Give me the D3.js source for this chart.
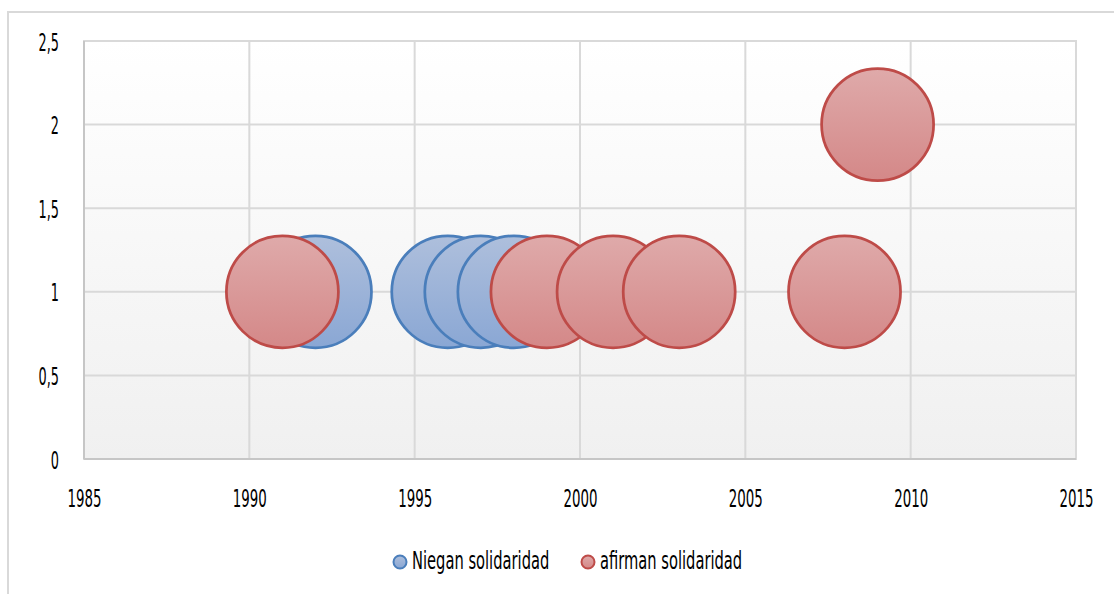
<!DOCTYPE html>
<html>
<head>
<meta charset="utf-8">
<script src="https://cdn.jsdelivr.net/npm/d3@7"></script>
<style>
  body { margin: 0; background: #fff; }
  svg text { font-family: "DejaVu Sans Condensed", "Liberation Sans Narrow", sans-serif; fill: #000; }
</style>
</head>
<body>
<div id="chart"></div>
<script>
// data
var nieganYears = [1992, 1996, 1997, 1998];
var nieganValues = [1, 1, 1, 1];
var afirmanYears = [1991, 1999, 2001, 2003, 2008, 2009];
var afirmanValues = [1, 1, 1, 1, 1, 2];
var xTicks = [1985, 1990, 1995, 2000, 2005, 2010, 2015];
var yTicks = [0, 0.5, 1, 1.5, 2, 2.5];
var seriesNames = ["Niegan solidaridad", "afirman solidaridad"];

var W = 1114, H = 594;
var margin = {top: 41, right: 38, bottom: 135, left: 84},
    width = W - margin.left - margin.right,
    height = H - margin.top - margin.bottom;

var es = d3.formatLocale({decimal: ",", thousands: ".", grouping: [3], currency: ["", "€"]});
var fmtY = es.format("~g");

var svg = d3.select("#chart").append("svg")
    .attr("width", W)
    .attr("height", H);

var defs = svg.append("defs");
var bg = defs.append("linearGradient").attr("id", "bg").attr("x1", 0).attr("x2", 0).attr("y1", 0).attr("y2", 1);
bg.append("stop").attr("offset", "0%").attr("stop-color", "#ffffff");
bg.append("stop").attr("offset", "100%").attr("stop-color", "#f0f0f0");
var gb = defs.append("linearGradient").attr("id", "gblue").attr("x1", 0).attr("x2", 0).attr("y1", 0).attr("y2", 1);
gb.append("stop").attr("offset", "0%").attr("stop-color", "#aebfdc");
gb.append("stop").attr("offset", "100%").attr("stop-color", "#8aa7d4");
var gr = defs.append("linearGradient").attr("id", "gred").attr("x1", 0).attr("x2", 0).attr("y1", 0).attr("y2", 1);
gr.append("stop").attr("offset", "0%").attr("stop-color", "#dfaaaa");
gr.append("stop").attr("offset", "100%").attr("stop-color", "#d48888");

// outer frame
svg.append("rect")
    .attr("x", 8).attr("y", 12)
    .attr("width", W + 20).attr("height", H + 20)
    .attr("fill", "none")
    .attr("stroke", "#d9d9d9")
    .attr("stroke-width", 2);

var g = svg.append("g")
    .attr("transform", "translate(" + margin.left + "," + margin.top + ")");

var x = d3.scaleLinear().domain([1985, 2015]).range([0, width]);
var y = d3.scaleLinear().domain([0, 2.5]).range([height, 0]);
var r = d3.scaleSqrt().domain([0, 1]).range([0, 56]);

// plot background
g.append("rect")
    .attr("width", width).attr("height", height)
    .attr("fill", "url(#bg)")
    .attr("stroke", "#d9d9d9")
    .attr("stroke-width", 2);

// grid
g.append("g").selectAll("line.h")
  .data(yTicks)
  .enter().append("line")
    .attr("x1", 0).attr("x2", width)
    .attr("y1", function(d) { return y(d); })
    .attr("y2", function(d) { return y(d); })
    .attr("stroke", "#d9d9d9").attr("stroke-width", 2);
g.append("g").selectAll("line.v")
  .data(xTicks)
  .enter().append("line")
    .attr("y1", 0).attr("y2", height)
    .attr("x1", function(d) { return x(d); })
    .attr("x2", function(d) { return x(d); })
    .attr("stroke", "#d9d9d9").attr("stroke-width", 2);

// axis lines
g.append("line").attr("x1", 0).attr("x2", 0).attr("y1", 0).attr("y2", height)
    .attr("stroke", "#c6c6c6").attr("stroke-width", 2);
g.append("line").attr("x1", 0).attr("x2", width).attr("y1", height).attr("y2", height)
    .attr("stroke", "#c6c6c6").attr("stroke-width", 2);

// X axis
var xAxis = g.append("g")
    .attr("transform", "translate(0," + height + ")")
    .call(d3.axisBottom(x).tickValues(xTicks).tickFormat(d3.format("d")).tickSize(0));
xAxis.select(".domain").remove();
xAxis.selectAll("text")
    .attr("y", 0).attr("dy", 0)
    .attr("transform", "translate(0,48) scale(0.595,1)")
    .style("font-size", "25px");

// Y axis
var yAxis = g.append("g")
    .call(d3.axisLeft(y).tickValues(yTicks).tickFormat(fmtY).tickSize(0));
yAxis.select(".domain").remove();
yAxis.selectAll("text")
    .attr("x", 0).attr("dy", 0)
    .attr("transform", "translate(-25,9) scale(0.595,1)")
    .style("font-size", "24px");

// bubbles
function bubbles(years, values, fill, stroke) {
  var data = years.map(function(d, i) { return {year: d, value: values[i], size: 1}; });
  g.append("g").selectAll("circle")
    .data(data)
    .enter().append("circle")
      .attr("cx", function(d) { return x(d.year); })
      .attr("cy", function(d) { return y(d.value); })
      .attr("r", function(d) { return r(d.size); })
      .attr("fill", fill)
      .attr("stroke", stroke)
      .attr("stroke-width", 2.75);
}
bubbles(nieganYears, nieganValues, "url(#gblue)", "#4a7ebb");
bubbles(afirmanYears, afirmanValues, "url(#gred)", "#be4b48");

// legend
var legend = svg.append("g");
var legItems = [
  {name: seriesNames[0], cx: 400, fill: "url(#gblue)", stroke: "#4a7ebb"},
  {name: seriesNames[1], cx: 588, fill: "url(#gred)", stroke: "#be4b48"}
];
legItems.forEach(function(d) {
  legend.append("circle")
    .attr("cx", d.cx).attr("cy", 562).attr("r", 6.5)
    .attr("fill", d.fill).attr("stroke", d.stroke).attr("stroke-width", 2);
  legend.append("text")
    .attr("transform", "translate(" + (d.cx + 12) + ",569) scale(0.653,1)")
    .style("font-size", "25px")
    .text(d.name);
});
</script>
</body>
</html>
